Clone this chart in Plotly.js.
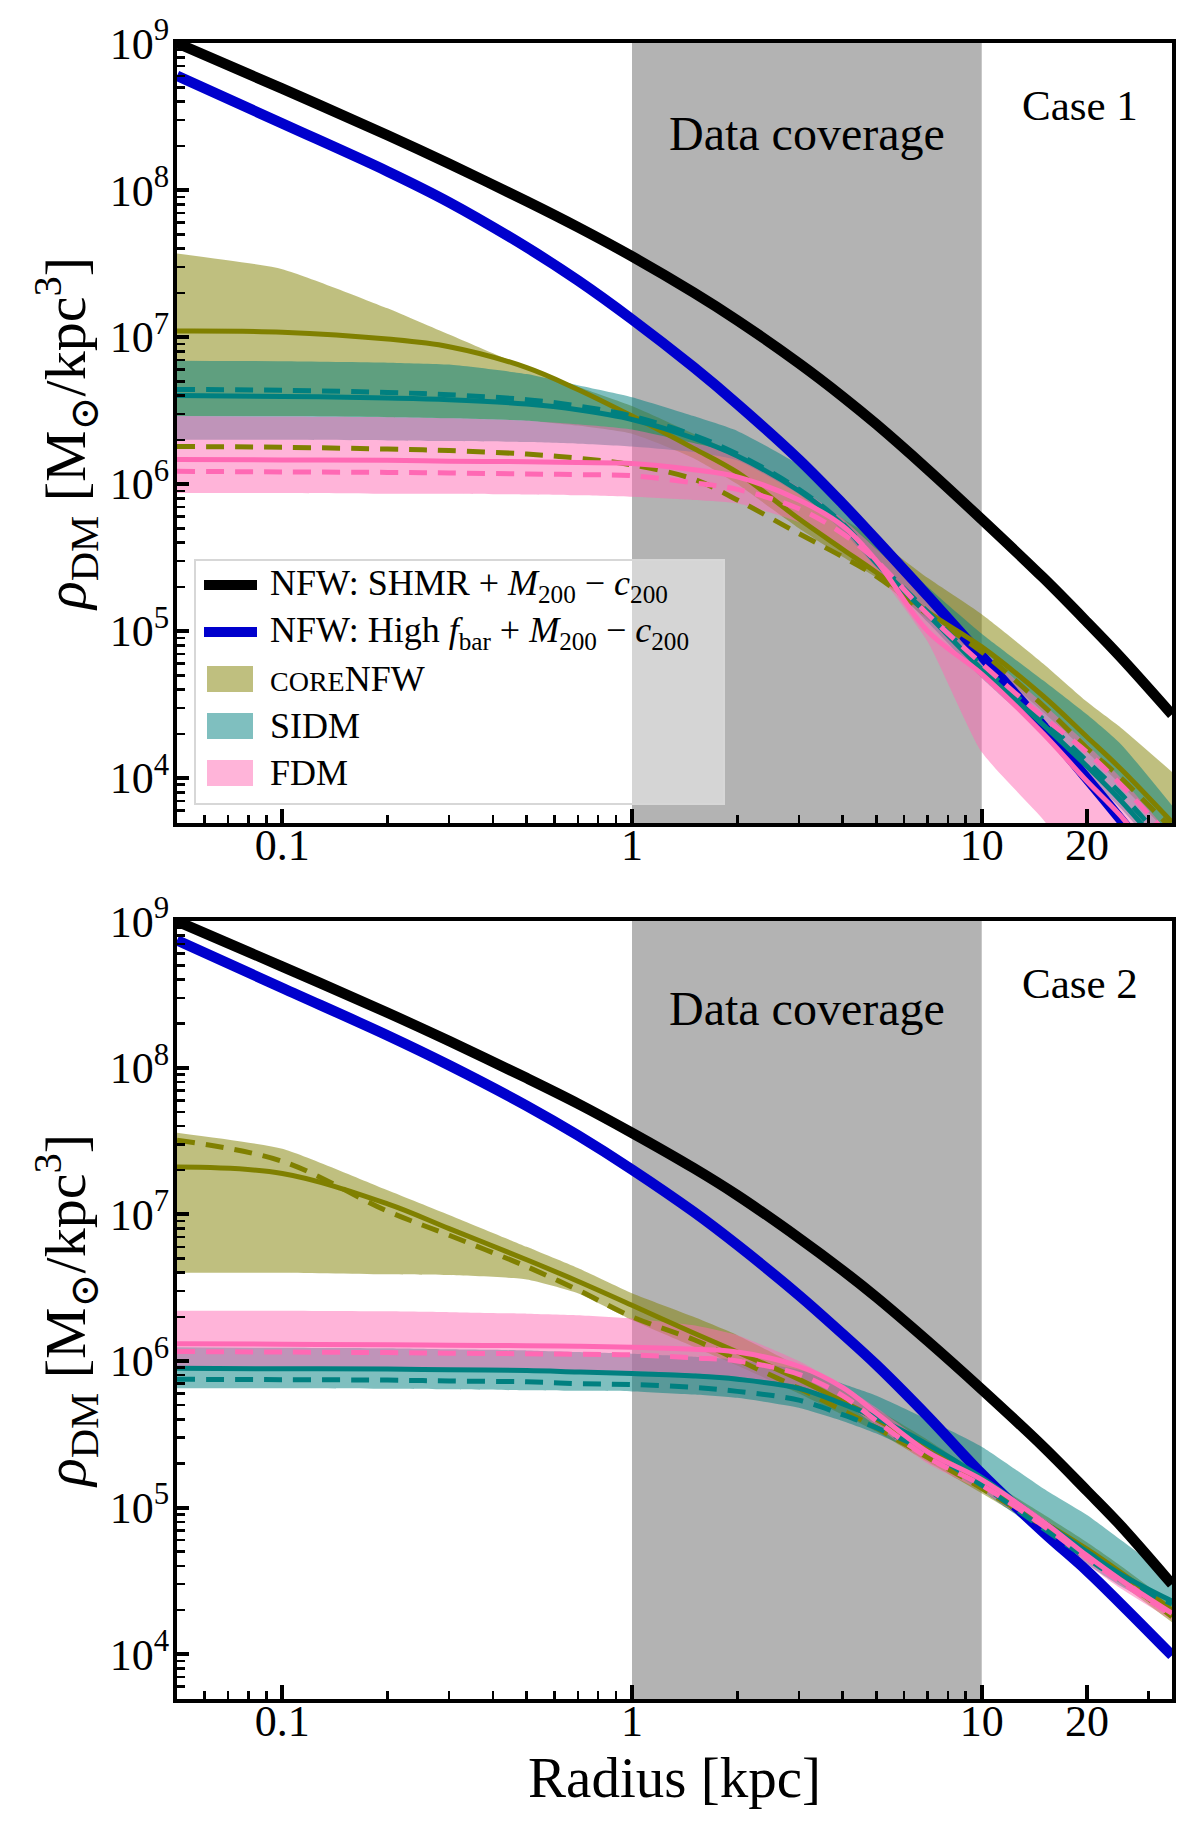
<!DOCTYPE html>
<html>
<head>
<meta charset="utf-8">
<script src="https://cdn.plot.ly/plotly-3.0.1.min.js"></script>
<style>
  body { margin: 0; background: #fff; }
  #graph { width: 1200px; height: 1840px; }
</style>
</head>
<body>
<div id="graph"></div>
<script>
// radius grid (kpc) shared by every curve
const radius = [0.05, 0.1, 0.2, 0.3, 0.5, 0.7, 1, 1.5, 2, 3, 4, 5, 7, 10, 15, 20, 25, 35];
const coverage = [1, 10];

// ---- Case 1 ----
const nfwShmr1 = [1.0e9, 4.9e8, 2.36e8, 1.51e8, 8.4e7, 5.6e7, 3.54e7, 2.01e7, 1.30e7, 6.64e6, 3.94e6, 2.55e6, 1.26e6, 5.75e5, 2.3e5, 1.15e5, 6.6e4, 2.7e4];
const nfwHigh1 = [6.0e8, 2.84e8, 1.34e8, 8.26e7, 4.08e7, 2.43e7, 1.32e7, 6.24e6, 3.51e6, 1.47e6, 7.36e5, 4.17e5, 1.74e5, 6.75e4, 2.24e4, 9.9e3, 5.2e3, 1.93e3];

const core1Mid = [1.1e7, 1.08e7, 9.7e6, 8.6e6, 6.2e6, 4.4e6, 2.9e6, 1.75e6, 1.2e6, 5.8e5, 3.6e5, 2.5e5, 1.35e5, 7.8e4, 3.6e4, 1.9e4, 1.15e4, 5.0e3];
const core1Dash = [1.8e6, 1.78e6, 1.73e6, 1.69e6, 1.6e6, 1.5e6, 1.35e6, 1.08e6, 7.8e5, 4.6e5, 3.2e5, 2.35e5, 1.3e5, 7.2e4, 3.1e4, 1.6e4, 1.0e4, 4.5e3];
const core1Hi = [3.7e7, 2.9e7, 1.57e7, 1.04e7, 6.2e6, 4.6e6, 3.4e6, 2.2e6, 1.6e6, 8.8e5, 5.8e5, 4.2e5, 2.3e5, 1.3e5, 6.0e4, 3.3e4, 2.2e4, 1.1e4];
const core1Lo = [2.9e6, 2.9e6, 2.85e6, 2.8e6, 2.7e6, 2.5e6, 2.2e6, 1.5e6, 1.0e6, 5.0e5, 3.2e5, 2.3e5, 1.2e5, 6.5e4, 2.8e4, 1.5e4, 9.0e3, 4.0e3];

const sidm1Mid = [4.0e6, 3.95e6, 3.85e6, 3.75e6, 3.5e6, 3.2e6, 2.75e6, 2.05e6, 1.55e6, 9.0e5, 5.3e5, 2.9e5, 1.3e5, 5.5e4, 2.3e4, 1.2e4, 7.0e3, 2.8e3];
const sidm1Dash = [4.4e6, 4.35e6, 4.2e6, 4.05e6, 3.75e6, 3.4e6, 2.9e6, 2.15e6, 1.6e6, 9.2e5, 5.4e5, 3.0e5, 1.35e5, 5.8e4, 2.5e4, 1.3e4, 7.8e3, 3.2e3];
const sidm1Hi = [6.9e6, 6.85e6, 6.7e6, 6.5e6, 5.6e6, 4.7e6, 3.9e6, 2.9e6, 2.3e6, 1.35e6, 7.5e5, 4.6e5, 2.0e5, 9.6e4, 4.6e4, 2.7e4, 1.7e4, 6.5e3];
const sidm1Lo = [2.0e6, 2.0e6, 1.98e6, 1.96e6, 1.93e6, 1.88e6, 1.8e6, 1.65e6, 1.45e6, 8.5e5, 4.8e5, 2.7e5, 1.15e5, 4.8e4, 2.0e4, 1.05e4, 6.2e3, 2.5e3];

const fdm1Mid = [1.47e6, 1.46e6, 1.45e6, 1.43e6, 1.42e6, 1.40e6, 1.38e6, 1.25e6, 1.12e6, 7.8e5, 5.2e5, 3.0e5, 1.0e5, 5.1e4, 2.0e4, 9.5e3, 5.5e3, 2.0e3];
const fdm1Dash = [1.22e6, 1.21e6, 1.2e6, 1.19e6, 1.17e6, 1.16e6, 1.14e6, 1.02e6, 9.2e5, 6.8e5, 4.6e5, 3.0e5, 1.3e5, 6.0e4, 2.6e4, 1.5e4, 9.0e3, 3.8e3];
const fdm1Hi = [2.9e6, 2.88e6, 2.85e6, 2.8e6, 2.7e6, 2.55e6, 2.35e6, 1.9e6, 1.6e6, 9.5e5, 5.8e5, 3.6e5, 1.7e5, 7.5e4, 3.2e4, 1.7e4, 1.0e4, 4.0e3];
const fdm1Lo = [8.7e5, 8.7e5, 8.6e5, 8.6e5, 8.5e5, 8.4e5, 8.2e5, 7.8e5, 7.4e5, 5.5e5, 3.6e5, 2.5e5, 8.5e4, 1.5e4, 5.2e3, 2.0e3, 1.0e3, 4.0e2];

// ---- Case 2 ----
const nfwShmr2 = [1.0e9, 4.9e8, 2.37e8, 1.52e8, 8.5e7, 5.7e7, 3.6e7, 2.07e7, 1.35e7, 6.9e6, 4.15e6, 2.72e6, 1.37e6, 6.4e5, 2.6e5, 1.3e5, 7.5e4, 3.0e4];
const nfwHigh2 = [7.4e8, 3.5e8, 1.66e8, 1.04e8, 5.5e7, 3.46e7, 2.02e7, 1.04e7, 6.18e6, 2.81e6, 1.53e6, 9.4e5, 4.2e5, 1.7e5, 6.8e4, 3.7e4, 2.2e4, 9.8e3];

const core2Mid = [2.1e7, 1.9e7, 1.18e7, 8.0e6, 4.9e6, 3.5e6, 2.4e6, 1.55e6, 1.15e6, 7.5e5, 5.3e5, 4.0e5, 2.5e5, 1.45e5, 8.0e4, 5.2e4, 3.6e4, 2.0e4];
const core2Dash = [3.2e7, 2.3e7, 1.05e7, 7.2e6, 4.4e6, 3.05e6, 2.0e6, 1.4e6, 1.02e6, 6.5e5, 4.6e5, 3.5e5, 2.2e5, 1.35e5, 7.5e4, 4.8e4, 3.3e4, 1.8e4];
const core2Hi = [3.6e7, 2.8e7, 1.46e7, 9.9e6, 6.0e6, 4.3e6, 2.9e6, 2.0e6, 1.5e6, 9.2e5, 6.3e5, 4.7e5, 2.9e5, 1.65e5, 9.0e4, 5.8e4, 4.0e4, 2.2e4];
const core2Lo = [4.0e6, 4.0e6, 3.9e6, 3.85e6, 3.6e6, 2.9e6, 1.9e6, 1.25e6, 9.3e5, 6.0e5, 4.3e5, 3.3e5, 2.05e5, 1.25e5, 7.0e4, 4.4e4, 3.0e4, 1.65e4];

const sidm2Mid = [8.9e5, 8.85e5, 8.8e5, 8.7e5, 8.6e5, 8.4e5, 8.2e5, 7.9e5, 7.5e5, 6.5e5, 5.1e5, 4.1e5, 2.7e5, 1.6e5, 8.0e4, 5.0e4, 3.5e4, 2.3e4];
const sidm2Dash = [7.5e5, 7.45e5, 7.4e5, 7.3e5, 7.2e5, 7.0e5, 6.9e5, 6.6e5, 6.2e5, 5.4e5, 4.3e5, 3.5e5, 2.4e5, 1.42e5, 7.2e4, 4.5e4, 3.2e4, 2.2e4];
const sidm2Hi = [1.24e6, 1.23e6, 1.22e6, 1.2e6, 1.18e6, 1.15e6, 1.12e6, 1.07e6, 1.02e6, 8.7e5, 7.0e5, 5.8e5, 4.0e5, 2.6e5, 1.35e5, 8.9e4, 6.0e4, 3.3e4];
const sidm2Lo = [6.5e5, 6.5e5, 6.45e5, 6.4e5, 6.3e5, 6.25e5, 6.2e5, 5.9e5, 5.6e5, 4.8e5, 3.9e5, 3.2e5, 2.2e5, 1.3e5, 6.6e4, 4.1e4, 2.9e4, 1.9e4];

const fdm2Mid = [1.31e6, 1.3e6, 1.29e6, 1.28e6, 1.27e6, 1.26e6, 1.24e6, 1.2e6, 1.15e6, 9.2e5, 6.6e5, 4.4e5, 2.4e5, 1.55e5, 8.0e4, 4.7e4, 3.2e4, 1.9e4];
const fdm2Dash = [1.16e6, 1.15e6, 1.14e6, 1.13e6, 1.12e6, 1.11e6, 1.1e6, 1.05e6, 1.0e6, 8.1e5, 5.8e5, 3.9e5, 2.2e5, 1.42e5, 7.5e4, 4.5e4, 3.1e4, 1.85e4];
const fdm2Hi = [2.2e6, 2.2e6, 2.18e6, 2.15e6, 2.1e6, 2.05e6, 1.95e6, 1.75e6, 1.5e6, 1.0e6, 6.8e5, 4.8e5, 2.7e5, 1.65e5, 8.5e4, 5.2e4, 3.5e4, 2.1e4];
const fdm2Lo = [8.9e5, 8.9e5, 8.85e5, 8.8e5, 8.7e5, 8.6e5, 8.5e5, 8.2e5, 7.8e5, 6.8e5, 5.2e5, 3.6e5, 2.0e5, 1.3e5, 6.8e4, 4.1e4, 2.8e4, 1.7e4];

// tick labels
const xTicks = [0.1, 1, 10, 20];
const xTickText = ["0.1", "1", "10", "20"];
const yTicks = [1e4, 1e5, 1e6, 1e7, 1e8, 1e9];
const yTickText = ["10<sup>4</sup>", "10<sup>5</sup>", "10<sup>6</sup>", "10<sup>7</sup>", "10<sup>8</sup>", "10<sup>9</sup>"];
const caseLabels = ["Case 1", "Case 2"];
const legendLabels = [
  "NFW: SHMR + <i>M</i><sub>200</sub> \u2212 <i>c</i><sub>200</sub>",
  "NFW: High <i>f</i><sub>bar</sub> + <i>M</i><sub>200</sub> \u2212 <i>c</i><sub>200</sub>",
  "<span style='font-size:28px'>CORE</span>NFW",
  "SIDM",
  "FDM"
];

const FONT = "Liberation Serif, DejaVu Serif, serif";
const OLIVE = "#808000", TEAL = "#008080", PINK = "#ff69b4";
const OLIVE_F = "rgba(128,128,0,0.5)", TEAL_F = "rgba(0,128,128,0.5)", PINK_F = "rgba(255,105,180,0.5)";
const DASH = "18px,11px";

function band(lo, hi, fill, xa, ya) {
  return [
    { x: radius, y: lo, xaxis: xa, yaxis: ya, mode: "lines", line: { width: 0, shape: "spline", smoothing: 0.5 }, showlegend: false, hoverinfo: "skip" },
    { x: radius, y: hi, xaxis: xa, yaxis: ya, mode: "lines", line: { width: 0, shape: "spline", smoothing: 0.5 }, fill: "tonexty", fillcolor: fill, showlegend: false, hoverinfo: "skip" }
  ];
}

function curve(y, color, width, dash, xa, ya) {
  return {
    x: radius, y: y, xaxis: xa, yaxis: ya, mode: "lines", showlegend: false,
    line: { color: color, width: width, dash: dash, shape: "spline", smoothing: 1 }
  };
}

function panel(s, xa, ya) {
  return [].concat(
    band(s.coreLo, s.coreHi, OLIVE_F, xa, ya),
    band(s.sidmLo, s.sidmHi, TEAL_F, xa, ya),
    band(s.fdmLo, s.fdmHi, PINK_F, xa, ya),
    [
      curve(s.shmr, "black", 10.5, "solid", xa, ya),
      curve(s.high, "#0000cd", 10.5, "solid", xa, ya),
      curve(s.coreMid, OLIVE, 5, "solid", xa, ya),
      curve(s.coreDash, OLIVE, 5, DASH, xa, ya),
      curve(s.sidmMid, TEAL, 5, "solid", xa, ya),
      curve(s.sidmDash, TEAL, 5, DASH, xa, ya),
      curve(s.fdmMid, PINK, 5, "solid", xa, ya),
      curve(s.fdmDash, PINK, 5, DASH, xa, ya)
    ]
  );
}

const data = [].concat(
  panel({ shmr: nfwShmr1, high: nfwHigh1, coreMid: core1Mid, coreDash: core1Dash, coreHi: core1Hi, coreLo: core1Lo,
          sidmMid: sidm1Mid, sidmDash: sidm1Dash, sidmHi: sidm1Hi, sidmLo: sidm1Lo,
          fdmMid: fdm1Mid, fdmDash: fdm1Dash, fdmHi: fdm1Hi, fdmLo: fdm1Lo }, "x", "y"),
  panel({ shmr: nfwShmr2, high: nfwHigh2, coreMid: core2Mid, coreDash: core2Dash, coreHi: core2Hi, coreLo: core2Lo,
          sidmMid: sidm2Mid, sidmDash: sidm2Dash, sidmHi: sidm2Hi, sidmLo: sidm2Lo,
          fdmMid: fdm2Mid, fdmDash: fdm2Dash, fdmHi: fdm2Hi, fdmLo: fdm2Lo }, "x2", "y2")
);

// minor tick positions
const xMinor = [], yMinor = [];
for (let e = -2; e <= 1; e++) for (let k = 2; k <= 9; k++) xMinor.push(k * Math.pow(10, e));
for (let e = 3; e <= 8; e++) for (let k = 2; k <= 9; k++) yMinor.push(k * Math.pow(10, e));

function xAxis(anchor, withTitle) {
  const ax = {
    type: "log", anchor: anchor, range: [Math.log10(0.05), Math.log10(35)],
    tickmode: "array", tickvals: xTicks, ticktext: xTickText,
    ticks: "inside", ticklen: 14, tickwidth: 4, tickcolor: "black",
    ticklabelstandoff: -20,
    showline: true, linewidth: 4, linecolor: "black", mirror: true,
    showgrid: false, zeroline: false,
    tickfont: { family: FONT, size: 44, color: "black" },
    minor: { tickmode: "array", tickvals: xMinor, ticks: "inside", ticklen: 8, tickwidth: 2.5, tickcolor: "black", showgrid: false }
  };
  if (withTitle) ax.title = { text: "Radius [kpc]", font: { family: FONT, size: 57, color: "black" }, standoff: 8 };
  return ax;
}

function yAxis(domain, anchor) {
  return {
    type: "log", domain: domain, anchor: anchor, range: [3.694, 9.001],
    tickmode: "array", tickvals: yTicks, ticktext: yTickText,
    ticks: "inside", ticklen: 12, tickwidth: 4, tickcolor: "black",
    ticklabelstandoff: -5,
    showline: true, linewidth: 4, linecolor: "black", mirror: true,
    showgrid: false, zeroline: false,
    tickfont: { family: FONT, size: 44, color: "black" },
    minor: { tickmode: "array", tickvals: yMinor, ticks: "inside", ticklen: 8, tickwidth: 2.5, tickcolor: "black", showgrid: false },
    title: { text: "<i>\u03c1</i><sub>DM</sub> [M<sub>\u2299</sub>/kpc<sup>3</sup>]", font: { family: FONT, size: 58, color: "black" }, standoff: 6 }
  };
}

// page geometry helpers (plot area 177..1172 x 43..1699)
const L = 177, T = 43, PW = 995, PH = 1656;
const px = v => (v - L) / PW;
const py = v => (T + PH - v) / PH;

const shapes = [];
["x", "x2"].forEach((xa, i) => {
  shapes.push({ type: "rect", xref: xa, yref: (i ? "y2" : "y") + " domain", x0: coverage[0], x1: coverage[1], y0: 0, y1: 1,
                fillcolor: "rgb(179,179,179)", line: { width: 0 }, layer: "below" });
});

// legend drawn by hand (top panel)
shapes.push({ type: "rect", xref: "paper", yref: "paper", x0: px(195), x1: px(724), y0: py(804), y1: py(560),
              fillcolor: "rgba(255,255,255,0.45)", line: { color: "rgb(215,215,215)", width: 2 }, layer: "above" });
shapes.push({ type: "line", xref: "paper", yref: "paper", x0: px(204), x1: px(257), y0: py(585), y1: py(585),
              line: { color: "black", width: 10 }, layer: "above" });
shapes.push({ type: "line", xref: "paper", yref: "paper", x0: px(204), x1: px(257), y0: py(632), y1: py(632),
              line: { color: "#0000cd", width: 10 }, layer: "above" });
[[679, OLIVE_F], [726, TEAL_F], [773, PINK_F]].forEach(([cy, c]) => {
  shapes.push({ type: "rect", xref: "paper", yref: "paper", x0: px(207), x1: px(253), y0: py(cy + 13), y1: py(cy - 13),
                fillcolor: c, line: { width: 0 }, layer: "above" });
});

const annotations = [];
[585, 632, 679, 726, 773].forEach((cy, i) => {
  annotations.push({ xref: "paper", yref: "paper", x: px(268), y: py(cy), xanchor: "left", yanchor: "middle",
                     text: legendLabels[i], showarrow: false, font: { family: FONT, size: 36, color: "black" } });
});
const midCoverage = Math.log10(Math.sqrt(coverage[0] * coverage[1]));
annotations.push({ xref: "x", yref: "paper", x: midCoverage, y: py(133), text: "Data coverage", showarrow: false,
                   xanchor: "center", yanchor: "middle", font: { family: FONT, size: 48, color: "black" } });
annotations.push({ xref: "x2", yref: "paper", x: midCoverage, y: py(1009), text: "Data coverage", showarrow: false,
                   xanchor: "center", yanchor: "middle", font: { family: FONT, size: 48, color: "black" } });
annotations.push({ xref: "paper", yref: "paper", x: px(1080), y: py(106), text: caseLabels[0], showarrow: false,
                   xanchor: "center", yanchor: "middle", font: { family: FONT, size: 43, color: "black" } });
annotations.push({ xref: "paper", yref: "paper", x: px(1080), y: py(983), text: caseLabels[1], showarrow: false,
                   xanchor: "center", yanchor: "middle", font: { family: FONT, size: 43, color: "black" } });

const layout = {
  width: 1200, height: 1840,
  margin: { l: 177, r: 28, t: 43, b: 141 },
  paper_bgcolor: "white", plot_bgcolor: "white",
  showlegend: false,
  xaxis: xAxis("y", false),
  yaxis: yAxis([0.529, 1], "x"),
  xaxis2: xAxis("y2", true),
  yaxis2: yAxis([0, 0.4698], "x2"),
  shapes: shapes,
  annotations: annotations,
  font: { family: FONT, color: "black" }
};

Plotly.newPlot("graph", data, layout, { displayModeBar: false, staticPlot: true });
</script>
</body>
</html>
